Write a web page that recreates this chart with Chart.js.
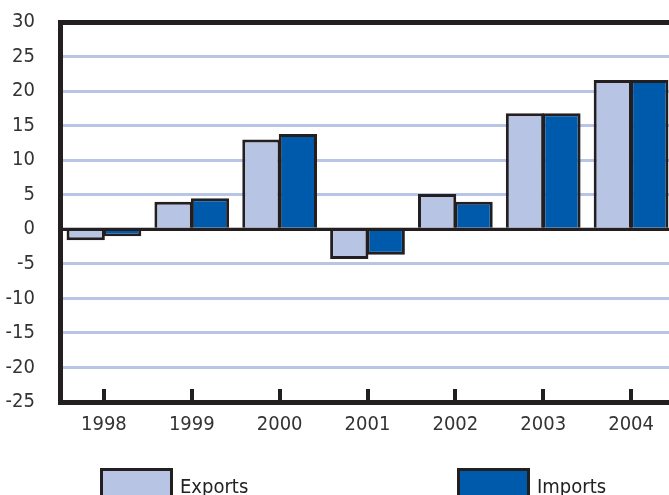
<!DOCTYPE html>
<html>
<head>
<meta charset="utf-8">
<script src="https://cdn.jsdelivr.net/npm/chart.js@4/dist/chart.umd.min.js"></script>
<style>
  html, body { margin: 0; padding: 0; background: #fff; overflow: hidden; }
  #wrap { width: 669px; height: 495px; overflow: hidden; position: relative; }
  #box { width: 700px; height: 495px; }
</style>
</head>
<body>
<div id="wrap"><div id="box"><canvas id="c"></canvas></div></div>
<script>
// Annual change, percent
const years = ['1998', '1999', '2000', '2001', '2002', '2003', '2004'];
const exportsChange = [-1.6, 4.0, 13.0, -4.3, 5.1, 16.8, 21.6];
const importsChange = [-1.0, 4.5, 13.8, -3.7, 4.0, 16.8, 21.6];
const yMin = -25;
const yMax = 30;
const yStep = 5;

const INK = '#231f20';
const GRID = '#b9c5e5';
const EXPORT_FILL = '#b8c4e4';
const IMPORT_FILL = '#005aab';
const FONT = '"Liberation Sans Narrow", "DejaVu Sans Condensed", "Liberation Sans", sans-serif';

// Zero line over the bar bases, inward tick marks on the category axis,
// and the legend boxes below the axis
const frameExtras = {
  id: 'frameExtras',
  afterDatasetsDraw(chart) {
    const { ctx, chartArea } = chart;
    const y0 = chart.scales.y.getPixelForValue(0);
    ctx.save();
    ctx.strokeStyle = INK;
    ctx.lineWidth = 3;
    ctx.beginPath();
    ctx.moveTo(chartArea.left, y0);
    ctx.lineTo(chartArea.right, y0);
    ctx.stroke();
    ctx.restore();
  },
  afterDraw(chart) {
    const { ctx, chartArea } = chart;
    const x = chart.scales.x;
    ctx.save();
    ctx.strokeStyle = INK;
    ctx.lineWidth = 4;
    x.ticks.forEach((t, i) => {
      const px = Math.round(x.getPixelForTick(i));
      ctx.beginPath();
      ctx.moveTo(px, chartArea.bottom);
      ctx.lineTo(px, chartArea.bottom - 13);
      ctx.stroke();
    });

    const slots = [100, 457];
    ctx.font = '20px ' + FONT;
    ctx.textBaseline = 'alphabetic';
    chart.data.datasets.forEach((ds, i) => {
      const lx = slots[i], ly = 468, w = 73, h = 40;
      ctx.fillStyle = ds.backgroundColor;
      ctx.fillRect(lx, ly, w, h);
      ctx.lineWidth = 3;
      ctx.strokeStyle = INK;
      ctx.strokeRect(lx + 1.5, ly + 1.5, w - 3, h - 3);
      ctx.fillStyle = '#222';
      ctx.fillText(ds.label, lx + w + 7, 493);
    });
    ctx.restore();
  }
};

new Chart(document.getElementById('c'), {
  type: 'bar',
  data: {
    labels: years,
    datasets: [
      {
        label: 'Exports',
        data: exportsChange,
        backgroundColor: EXPORT_FILL,
        borderColor: INK,
        borderWidth: 3,
        borderSkipped: 'start'
      },
      {
        label: 'Imports',
        data: importsChange,
        backgroundColor: IMPORT_FILL,
        borderColor: INK,
        borderWidth: 3,
        borderSkipped: 'start'
      }
    ]
  },
  options: {
    responsive: true,
    maintainAspectRatio: false,
    animation: false,
    layout: { padding: { top: 22, right: 25, left: 0, bottom: 0 } },
    datasets: {
      bar: { categoryPercentage: 0.83, barPercentage: 1.05 }
    },
    plugins: {
      legend: { display: false },
      tooltip: { enabled: false }
    },
    scales: {
      x: {
        afterFit(scale) { scale.height = 93; },
        grid: { display: true, color: 'rgba(0,0,0,0)', drawTicks: false },
        border: { display: true, color: INK, width: 5 },
        ticks: {
          color: '#333',
          padding: 11,
          font: { family: FONT, size: 20 }
        }
      },
      y: {
        min: yMin,
        max: yMax,
        afterFit(scale) {
          scale.width = 60;
          scale.paddingTop = 0;
          scale.paddingBottom = 0;
        },
        grid: {
          drawTicks: false,
          color: c => {
            const v = c.tick.value;
            if (v === 0 || v === yMax || v === yMin) return INK;
            return GRID;
          },
          lineWidth: c => (c.tick.value === yMax ? 5 : 3)
        },
        border: { display: true, color: INK, width: 5 },
        ticks: {
          stepSize: yStep,
          color: '#333',
          padding: 25,
          font: { family: FONT, size: 20 }
        }
      }
    }
  },
  plugins: [frameExtras]
});
</script>
</body>
</html>
